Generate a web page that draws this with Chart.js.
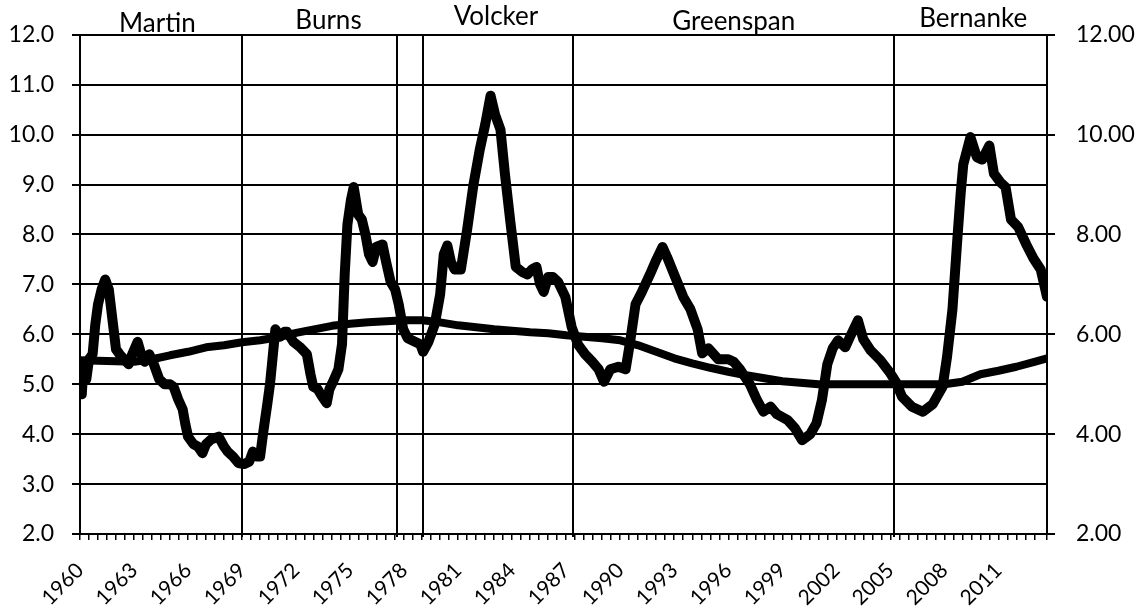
<!DOCTYPE html>
<html><head><meta charset="utf-8">
<script src="https://cdn.jsdelivr.net/npm/chart.js@4"></script>
<style>html,body{margin:0;padding:0;background:#fff;}canvas{display:block}</style>
</head><body>
<canvas id="c" width="1139" height="610"></canvas>
<script>
// ---- data ----
const unempYears = [1960.0,1960.1,1960.2,1960.35,1960.5,1960.7,1960.85,1961.0,1961.2,1961.4,1961.6,1961.8,1962.0,1962.2,1962.45,1962.7,1962.9,1963.2,1963.4,1963.6,1963.85,1964.1,1964.4,1964.7,1965.0,1965.2,1965.45,1965.7,1965.85,1966.0,1966.3,1966.55,1966.8,1967.0,1967.3,1967.7,1968.0,1968.2,1968.5,1968.8,1969.1,1969.4,1969.6,1969.8,1970.0,1970.2,1970.4,1970.55,1970.7,1970.85,1971.1,1971.35,1971.5,1971.85,1972.2,1972.6,1972.8,1972.95,1973.2,1973.45,1973.7,1973.85,1974.05,1974.35,1974.55,1974.7,1974.85,1975.05,1975.2,1975.45,1975.65,1975.85,1976.05,1976.25,1976.45,1976.8,1977.0,1977.25,1977.5,1977.7,1977.95,1978.2,1978.6,1978.9,1979.05,1979.35,1979.7,1980.0,1980.2,1980.4,1980.6,1980.8,1981.15,1981.5,1981.85,1982.2,1982.5,1982.8,1983.05,1983.35,1983.6,1983.9,1984.2,1984.55,1984.85,1985.1,1985.35,1985.55,1985.75,1986.0,1986.25,1986.55,1986.95,1987.3,1987.65,1988.05,1988.45,1988.8,1989.1,1989.45,1989.9,1990.3,1990.55,1990.85,1991.2,1991.65,1991.95,1992.35,1992.6,1993.05,1993.5,1993.9,1994.3,1994.55,1994.9,1995.2,1995.45,1996.0,1996.3,1996.65,1997.2,1997.6,1997.95,1998.35,1998.7,1999.3,1999.7,2000.1,2000.55,2000.9,2001.2,2001.5,2001.8,2002.1,2002.5,2002.8,2003.2,2003.5,2003.9,2004.45,2005.0,2005.3,2005.65,2006.2,2006.8,2007.35,2007.9,2008.15,2008.45,2008.7,2008.9,2009.05,2009.45,2009.8,2010.1,2010.5,2010.75,2011.1,2011.4,2011.7,2012.1,2012.55,2012.95,2013.35,2013.7];
const unempValues = [5.2,4.8,5.4,5.1,5.5,5.6,6.2,6.6,6.9,7.1,6.9,6.3,5.7,5.6,5.5,5.4,5.6,5.85,5.6,5.45,5.6,5.4,5.1,5.0,5.0,4.95,4.7,4.5,4.2,3.95,3.8,3.75,3.62,3.8,3.9,3.95,3.75,3.65,3.55,3.42,3.4,3.45,3.65,3.55,3.55,4.1,4.6,5.0,5.55,6.1,5.95,6.05,6.05,5.85,5.75,5.6,5.2,4.95,4.9,4.75,4.62,4.9,5.05,5.3,5.8,7.2,8.2,8.7,8.95,8.4,8.3,8.0,7.6,7.45,7.75,7.8,7.45,7.05,6.9,6.6,6.1,5.92,5.85,5.8,5.65,5.85,6.2,6.8,7.6,7.78,7.45,7.3,7.3,8.1,9.0,9.7,10.2,10.78,10.4,10.1,9.2,8.25,7.35,7.25,7.2,7.3,7.35,7.0,6.85,7.15,7.15,7.05,6.75,6.15,5.8,5.6,5.45,5.3,5.05,5.3,5.35,5.3,5.85,6.6,6.85,7.2,7.45,7.75,7.55,7.15,6.75,6.5,6.1,5.62,5.72,5.6,5.5,5.5,5.45,5.3,5.0,4.68,4.45,4.55,4.4,4.28,4.12,3.88,4.0,4.22,4.68,5.4,5.72,5.88,5.74,5.98,6.28,5.9,5.68,5.48,5.22,5.05,4.75,4.55,4.45,4.6,4.95,5.55,6.5,7.8,8.8,9.4,9.95,9.55,9.5,9.78,9.22,9.05,8.95,8.3,8.15,7.8,7.52,7.3,6.75];

const naturalYears = [1960,1961,1962,1963,1964,1965,1966,1967,1968,1969,1970,1971,1972,1973,1974,1975,1976,1977,1978,1979,1980,1981,1982,1983,1984,1985,1986,1987,1988,1989,1990,1991,1992,1993,1994,1995,1996,1997,1998,1999,2000,2001,2002,2005,2008,2009,2010,2011,2012,2013,2013.7];
const naturalValues = [5.48,5.47,5.46,5.45,5.5,5.58,5.65,5.74,5.78,5.84,5.88,5.94,6.03,6.1,6.17,6.21,6.24,6.26,6.28,6.28,6.24,6.18,6.14,6.1,6.07,6.04,6.02,5.98,5.95,5.92,5.88,5.78,5.65,5.52,5.42,5.33,5.25,5.18,5.12,5.06,5.03,5.0,5.0,5.0,5.0,5.05,5.2,5.27,5.35,5.45,5.52];

const chairNames = ['Martin','Burns','Volcker','Greenspan','Bernanke'];
const chairChangeYears = [1969.0, 1977.6, 1979.05, 1987.4, 2005.2];
const xLabelYears = [1960,1963,1966,1969,1972,1975,1978,1981,1984,1987,1990,1993,1996,1999,2002,2005,2008,2011];

// ---- chart ----
Chart.defaults.font.family = 'Lato';
Chart.defaults.color = '#000';

const toXY = (xs, ys) => xs.map((x, i) => ({x, y: ys[i]}));

const chairPlugin = {
  id: 'chairs',
  beforeDatasetsDraw(chart, args, opts) {
    const {ctx, chartArea, scales: {x}} = chart;
    ctx.save();
    ctx.strokeStyle = '#000';
    ctx.lineWidth = 2;
    chairChangeYears.forEach(yr => {
      const px = Math.round(x.getPixelForValue(yr));
      ctx.beginPath();
      ctx.moveTo(px, chartArea.top);
      ctx.lineTo(px, chartArea.bottom + 3);
      ctx.stroke();
    });
    ctx.restore();
  },
  afterDraw(chart, args, opts) {
    const {ctx, scales: {x}} = chart;
    ctx.save();
    ctx.font = opts.font;
    ctx.fillStyle = '#000';
    ctx.textAlign = 'center';
    ctx.textBaseline = 'alphabetic';
    chairNames.forEach((n, i) => {
      ctx.fillText(n, x.getPixelForValue(opts.labelAt[i]), opts.baselines[i]);
    });
    ctx.restore();
  }
};

new Chart(document.getElementById('c'), {
  type: 'line',
  data: {
    datasets: [
      {
        label: 'Unemployment rate',
        data: toXY(unempYears, unempValues),
        borderColor: '#000',
        borderWidth: 10,
        pointRadius: 0,
        tension: 0,
        borderJoinStyle: 'round',
        borderCapStyle: 'round',
        yAxisID: 'y'
      },
      {
        label: 'Natural rate',
        data: toXY(naturalYears, naturalValues),
        borderColor: '#000',
        borderWidth: 8,
        pointRadius: 0,
        tension: 0,
        borderJoinStyle: 'round',
        yAxisID: 'y'
      }
    ]
  },
  options: {
    responsive: false,
    animation: false,
    devicePixelRatio: 1,
    layout: { padding: { top: 34, left: 0, right: 0, bottom: 0 } },
    plugins: {
      legend: { display: false },
      tooltip: { enabled: false },
      chairs: {
        font: '26px Lato',
        labelAt: [1964.3, 1973.8, 1983.1, 1996.3, 2009.6],
        baselines: [32, 29, 25, 30, 27]
      }
    },
    scales: {
      x: {
        type: 'linear',
        min: 1960,
        max: 2013.7,
        afterFit: s => { s.height = 76; },
        grid: { drawOnChartArea: false, drawTicks: true, tickLength: 6, color: '#000', lineWidth: 1.5 },
        border: { display: true, color: '#000', width: 2 },
        ticks: {
          stepSize: 0.5,
          autoSkip: false,
          minRotation: 45,
          maxRotation: 45,
          padding: 18,
          font: { size: 21 },
          callback: v => {
            const r = Math.round(v);
            return (Math.abs(v - r) < 1e-6 && xLabelYears.includes(r)) ? String(r) : '';
          }
        }
      },
      y: {
        position: 'left',
        min: 2,
        max: 12,
        afterFit: s => { s.width = 80; },
        grid: { color: '#000', lineWidth: 2, tickLength: 8 },
        border: { display: true, color: '#000', width: 2 },
        ticks: { stepSize: 1, padding: 18, font: { size: 23 }, callback: v => v.toFixed(1) }
      },
      y1: {
        position: 'right',
        min: 2,
        max: 12,
        afterFit: s => { s.width = 92; },
        grid: { drawOnChartArea: false, color: '#000', lineWidth: 2, tickLength: 8 },
        border: { display: true, color: '#000', width: 2 },
        ticks: { stepSize: 2, padding: 21, font: { size: 23 }, callback: v => v.toFixed(2) }
      }
    }
  },
  plugins: [chairPlugin]
});
</script>
</body></html>
